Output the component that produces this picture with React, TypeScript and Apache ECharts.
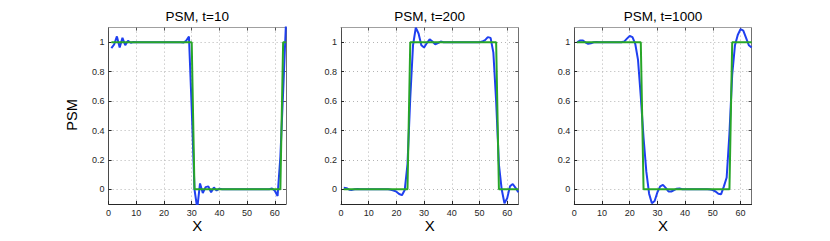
import React, { useEffect, useRef } from "react";
import * as echarts from "echarts";

const xs = [1,2,3,4,5,6,7,8,9,10,11,12,13,14,15,16,17,18,19,20,21,22,23,24,25,26,27,28,29,30,31,32,33,34,35,36,37,38,39,40,41,42,43,44,45,46,47,48,49,50,51,52,53,54,55,56,57,58,59,60,61,62,63,64];

const psm10 = [0.96,0.985,1.04,0.965,1.03,0.98,1.01,0.997,1.002,1,1,1,1,1,1,1,1,1,1,1,1,1,1,1,1,1,0.998,1.01,1.04,0.55,0,-0.13,0.04,-0.025,0.015,0.02,-0.02,0.012,-0.008,0.004,0,0,0,0,0,0,0,0,0,0,0,0,0,0,0,0,0,0,0.005,-0.01,-0.045,0.22,0.66,1.12];
const exact10 = [1,1,1,1,1,1,1,1,1,1,1,1,1,1,1,1,1,1,1,1,1,1,1,1,1,1,1,1,1,1,0,0,0,0,0,0,0,0,0,0,0,0,0,0,0,0,0,0,0,0,0,0,0,0,0,0,0,0,0,0,0,0,1,1];

const psm200 = [0.01,0.008,-0.003,-0.004,0,0.002,0,0,0,0,0,0,0,0,0,0,0,-0.003,-0.008,-0.016,-0.032,-0.04,-0.005,0.17,0.62,0.98,1.1,1.06,0.98,0.965,0.995,1.02,1.005,0.987,0.995,1.005,1,1,1,1,1,1,1,1,1,1,1,1,1,1,1.005,1.015,1.035,1.03,0.93,0.6,0.17,0,-0.095,-0.06,0.02,0.036,0.01,-0.02];
const exact200 = [0,0,0,0,0,0,0,0,0,0,0,0,0,0,0,0,0,0,0,0,0,0,0,0,1,1,1,1,1,1,1,1,1,1,1,1,1,1,1,1,1,1,1,1,1,1,1,1,1,1,1,1,1,1,1,1,0,0,0,0,0,0,0,0];

const psm1000 = [1,1.012,1.013,1,0.99,0.993,1,1.002,1,1,1,1,1,1,1,1,1,1.005,1.025,1.043,1.035,0.99,0.88,0.63,0.35,0.12,-0.03,-0.095,-0.08,-0.02,0.02,0.03,0.01,-0.015,-0.015,-0.005,0.004,0.005,0,0,0,0,0,0,0,0,0,0,-0.002,-0.005,-0.015,-0.03,-0.033,0.02,0.08,0.38,0.78,0.98,1.05,1.09,1.08,1.03,0.98,0.965];
const exact1000 = [1,1,1,1,1,1,1,1,1,1,1,1,1,1,1,1,1,1,1,1,1,1,1,1,0,0,0,0,0,0,0,0,0,0,0,0,0,0,0,0,0,0,0,0,0,0,0,0,0,0,0,0,0,0,0,0,1,1,1,1,1,1,1,1];

const xTicks = [0, 10, 20, 30, 40, 50, 60];
const yTicks = [0, 0.2, 0.4, 0.6, 0.8, 1];
const titles = ["PSM, t=10", "PSM, t=200", "PSM, t=1000"];
const psmSets = [psm10, psm200, psm1000];
const exactSets = [exact10, exact200, exact1000];

const X_MIN = 0, X_MAX = 64, Y_MIN = -0.1, Y_MAX = 1.1;

const PANEL_LEFT = [108.6, 341, 574.3];
const PANEL_W = 177.3;
const PANEL_TOP = 27.6;
const PANEL_H = 176.4;

const FONT = "Liberation Sans, Arial, Helvetica, sans-serif";

export default function App() {
  const ref = useRef<HTMLDivElement>(null);
  useEffect(() => {
    document.body.style.margin = "0";
    if (!ref.current) return;
    const chart = echarts.init(ref.current, undefined, { renderer: "svg" });
    const grid: any[] = [];
    const xAxis: any[] = [];
    const yAxis: any[] = [];
    const series: any[] = [];
    const graphic: any[] = [];
    for (let i = 0; i < 3; i++) {
      grid.push({ left: PANEL_LEFT[i], top: PANEL_TOP, width: PANEL_W, height: PANEL_H, containLabel: false, show: true, backgroundColor: "#fff", borderWidth: 0 });
      xAxis.push({
        type: "value", gridIndex: i, min: X_MIN, max: X_MAX, position: "bottom",
        axisLine: { show: true, onZero: false, lineStyle: { color: "#262626", width: 1 } },
        axisTick: { show: true, inside: true, length: 3, customValues: xTicks, lineStyle: { color: "#262626" } },
        axisLabel: { show: true, customValues: xTicks, margin: 4, color: "#262626", fontSize: 9, fontFamily: FONT },
        splitLine: { show: true, lineStyle: { color: "#b4b4b4", type: [1, 3], width: 1 } },
      });
      xAxis.push({
        type: "value", gridIndex: i, min: X_MIN, max: X_MAX, position: "top",
        axisLine: { show: true, onZero: false, lineStyle: { color: "#a0a0a0", width: 1 } },
        axisTick: { show: true, inside: true, length: 3, customValues: xTicks, lineStyle: { color: "#555" } },
        axisLabel: { show: false },
        splitLine: { show: false },
      });
      yAxis.push({
        type: "value", gridIndex: i, min: Y_MIN, max: Y_MAX, position: "left",
        axisLine: { show: true, onZero: false, lineStyle: { color: "#4a4a4a", width: 1 } },
        axisTick: { show: true, inside: true, length: 3, customValues: yTicks, lineStyle: { color: "#262626" } },
        axisLabel: { show: true, customValues: yTicks, margin: 4, color: "#262626", fontSize: 9, fontFamily: FONT },
        splitLine: { show: true, lineStyle: { color: "#b4b4b4", type: [1, 3], width: 1 } },
      });
      yAxis.push({
        type: "value", gridIndex: i, min: Y_MIN, max: Y_MAX, position: "right",
        axisLine: { show: true, onZero: false, lineStyle: { color: "#707070", width: 1 } },
        axisTick: { show: true, inside: true, length: 3, customValues: yTicks, lineStyle: { color: "#555" } },
        axisLabel: { show: false },
        splitLine: { show: false },
      });
      series.push({
        type: "line", xAxisIndex: i * 2, yAxisIndex: i * 2,
        data: xs.map((x, j) => [x, psmSets[i][j]]),
        showSymbol: false, smooth: false, clip: true,
        lineStyle: { color: "#1f3ff0", width: 2 },
      });
      series.push({
        type: "line", xAxisIndex: i * 2, yAxisIndex: i * 2,
        data: xs.map((x, j) => [x, exactSets[i][j]]),
        showSymbol: false, smooth: false, clip: true,
        lineStyle: { color: "#28a628", width: 2 },
      });
      const cx = PANEL_LEFT[i] + PANEL_W / 2;
      graphic.push({
        type: "text", x: cx, y: 16,
        style: { text: titles[i], fill: "#000", font: `13.5px ${FONT}`, textAlign: "center", textVerticalAlign: "middle" },
      });
      graphic.push({
        type: "text", x: cx, y: 225,
        style: { text: "X", fill: "#000", font: `15px ${FONT}`, textAlign: "center", textVerticalAlign: "middle" },
      });
    }
    graphic.push({
      type: "text", x: 72, y: 115, rotation: Math.PI / 2,
      style: { text: "PSM", fill: "#000", font: `14.5px ${FONT}`, textAlign: "center", textVerticalAlign: "middle" },
    });
    chart.setOption({
      animation: false,
      backgroundColor: "#fff",
      grid, xAxis, yAxis, series, graphic,
    });
    return () => chart.dispose();
  }, []);
  return <div ref={ref} style={{ width: 830, height: 241 }} />;
}
